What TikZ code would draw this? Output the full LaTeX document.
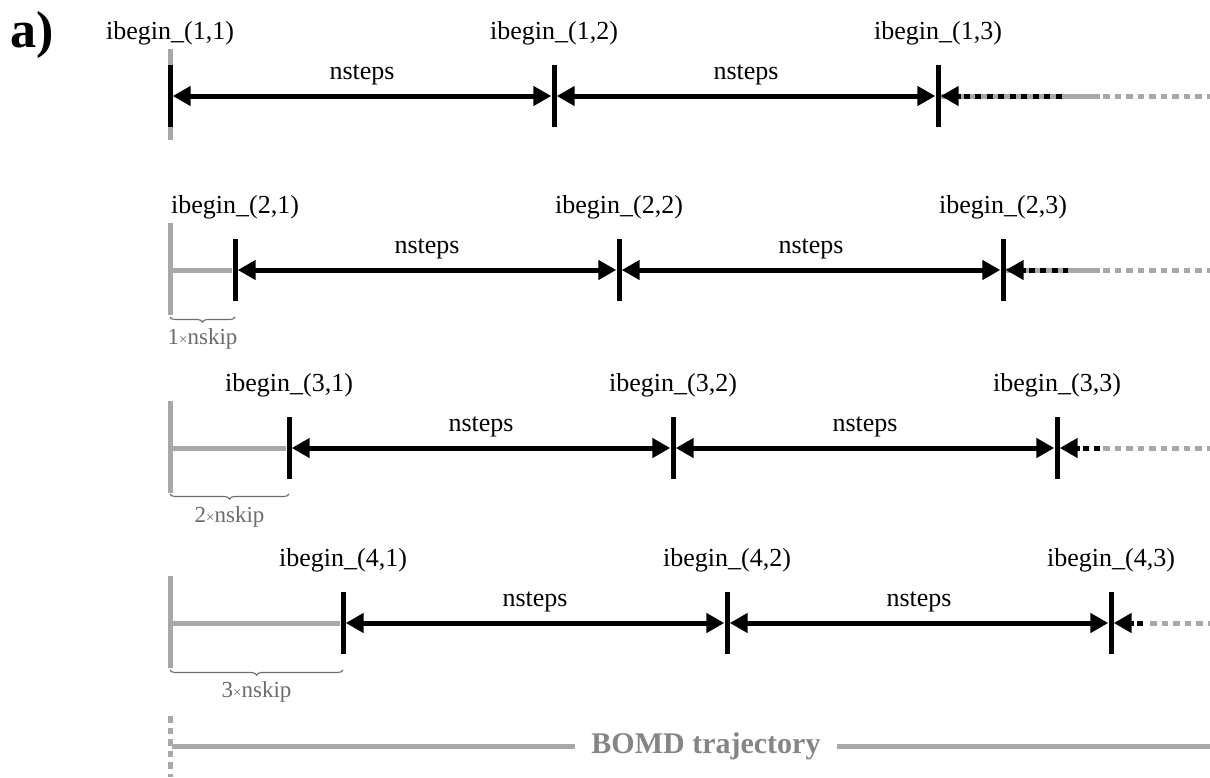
\documentclass[tikz,border=0pt]{standalone}
\usepackage{fontspec}
\setmainfont{Liberation Serif}
\usetikzlibrary{arrows.meta,decorations.pathreplacing,backgrounds,calc}

\definecolor{trajgray}{HTML}{A8A8A8}
\definecolor{notegray}{HTML}{6C6C6C}
\definecolor{titlegray}{HTML}{858585}

\tikzset{
  >={Triangle[length=18pt,width=19pt]},
  tickmark/.style={fill=black, draw=none, inner sep=0pt, minimum width=5pt, minimum height=62pt},
  idxlabel/.style={anchor=base, inner sep=0pt, font=\fontsize{26}{30}\selectfont},
  steplabel/.style={anchor=base, inner sep=0pt, yshift=17pt, font=\fontsize{26}{30}\selectfont},
  span/.style={line width=5pt, <->},
  tailtip/.style={line width=5pt, <-},
  blackdots/.style={line width=5pt, black, dash pattern=on 6pt off 5.5pt, dash phase=8.5pt},
  trajline/.style={line width=5pt, trajgray},
  trajdots/.style={line width=5pt, trajgray, dash pattern=on 6.5pt off 5pt},
  skipbrace/.style={decorate, decoration={brace, mirror, amplitude=5pt}, line width=1.1pt, notegray},
  skiplabel/.style={anchor=base, inner sep=0pt, text=notegray, font=\fontsize{23}{26}\selectfont},
  trajlabel/.style={inner xsep=16pt, inner ysep=0pt, text=titlegray, font=\fontsize{30}{34}\selectfont\bfseries}
}

\newcommand{\smalltimes}{{\fontsize{15}{15}\selectfont ×}}

\begin{document}
\begin{tikzpicture}[x=1pt, y=-1pt]
\useasboundingbox (0,0) rectangle (1210,777);

% panel letter
\node[anchor=base west, inner sep=0pt, font=\fontsize{52}{56}\selectfont\bfseries] (panel) at (10,47) {a)};

% windows: row / arrow height / first start index position
\foreach \r/\y/\x in {1/96/170, 2/270/235, 3/448/289, 4/623/343}{
  \foreach \c in {1,2,3}{
    \node[tickmark] (t\r\c) at ({\x+384*(\c-1)},\y) {};
    \node[idxlabel] (l\r\c) at ({\x+384*(\c-1)},\y-57) {ibegin\_(\r,\c)};
  }
  \draw[span] (t\r1.east) -- (t\r2.west) node[midway, steplabel] (n\r1) {nsteps};
  \draw[span] (t\r2.east) -- (t\r3.west) node[midway, steplabel] (n\r2) {nsteps};
}

% open ends of the windows
\coordinate (d1) at (1063,96);
\coordinate (d2) at (1068,270);
\coordinate (d3) at (1100,448);
\coordinate (d4) at (1148,623);
\foreach \r in {1,2,3,4}{
  \draw[tailtip] (t\r3.east) -- ++(20,0) coordinate (a\r);
  \draw[blackdots] (a\r) -- (d\r);
}

% trajectory scaffold behind each row
\begin{scope}[on background layer]
  \draw[trajline] (170,49) -- (170,140);
  \foreach \r/\y in {2/270, 3/448, 4/623}{
    \draw[trajline] (170,\y-47) -- (170,\y+45);
    \draw[trajline] (170,\y) -- (t\r1.west);
  }
  \draw[trajline] (t13.east) -- (1100,96);
  \draw[trajline] (t23.east) -- (1100,270);
  \draw[trajdots] (1103,96) -- (1210,96);
  \draw[trajdots] (1103,270) -- (1210,270);
  \draw[trajdots] (1103,448) -- (1210,448);
  \draw[trajdots] (1150,623) -- (1210,623);
\end{scope}

% skip offsets
\foreach \r/\k/\y/\ly in {2/1/317/344, 3/2/494/522, 4/3/670/697}{
  \draw[skipbrace] (170,\y) -- (t\r1.center |- 0,\y);
  \node[skiplabel] (s\r) at ($(170,\ly)!0.5!(t\r1.center |- 0,\ly)$) {\k\smalltimes nskip};
}

% full trajectory
\node[trajlabel] (bomd) at (706,746) {BOMD trajectory};
\coordinate (trajstart) at (172,746);
\coordinate (trajend) at (1210,746);
\draw[trajline] (trajstart) -- (bomd.west);
\draw[trajline] (bomd.east) -- (trajend);
\draw[trajdots] (170,716) -- (170,777);
\end{tikzpicture}
\end{document}
